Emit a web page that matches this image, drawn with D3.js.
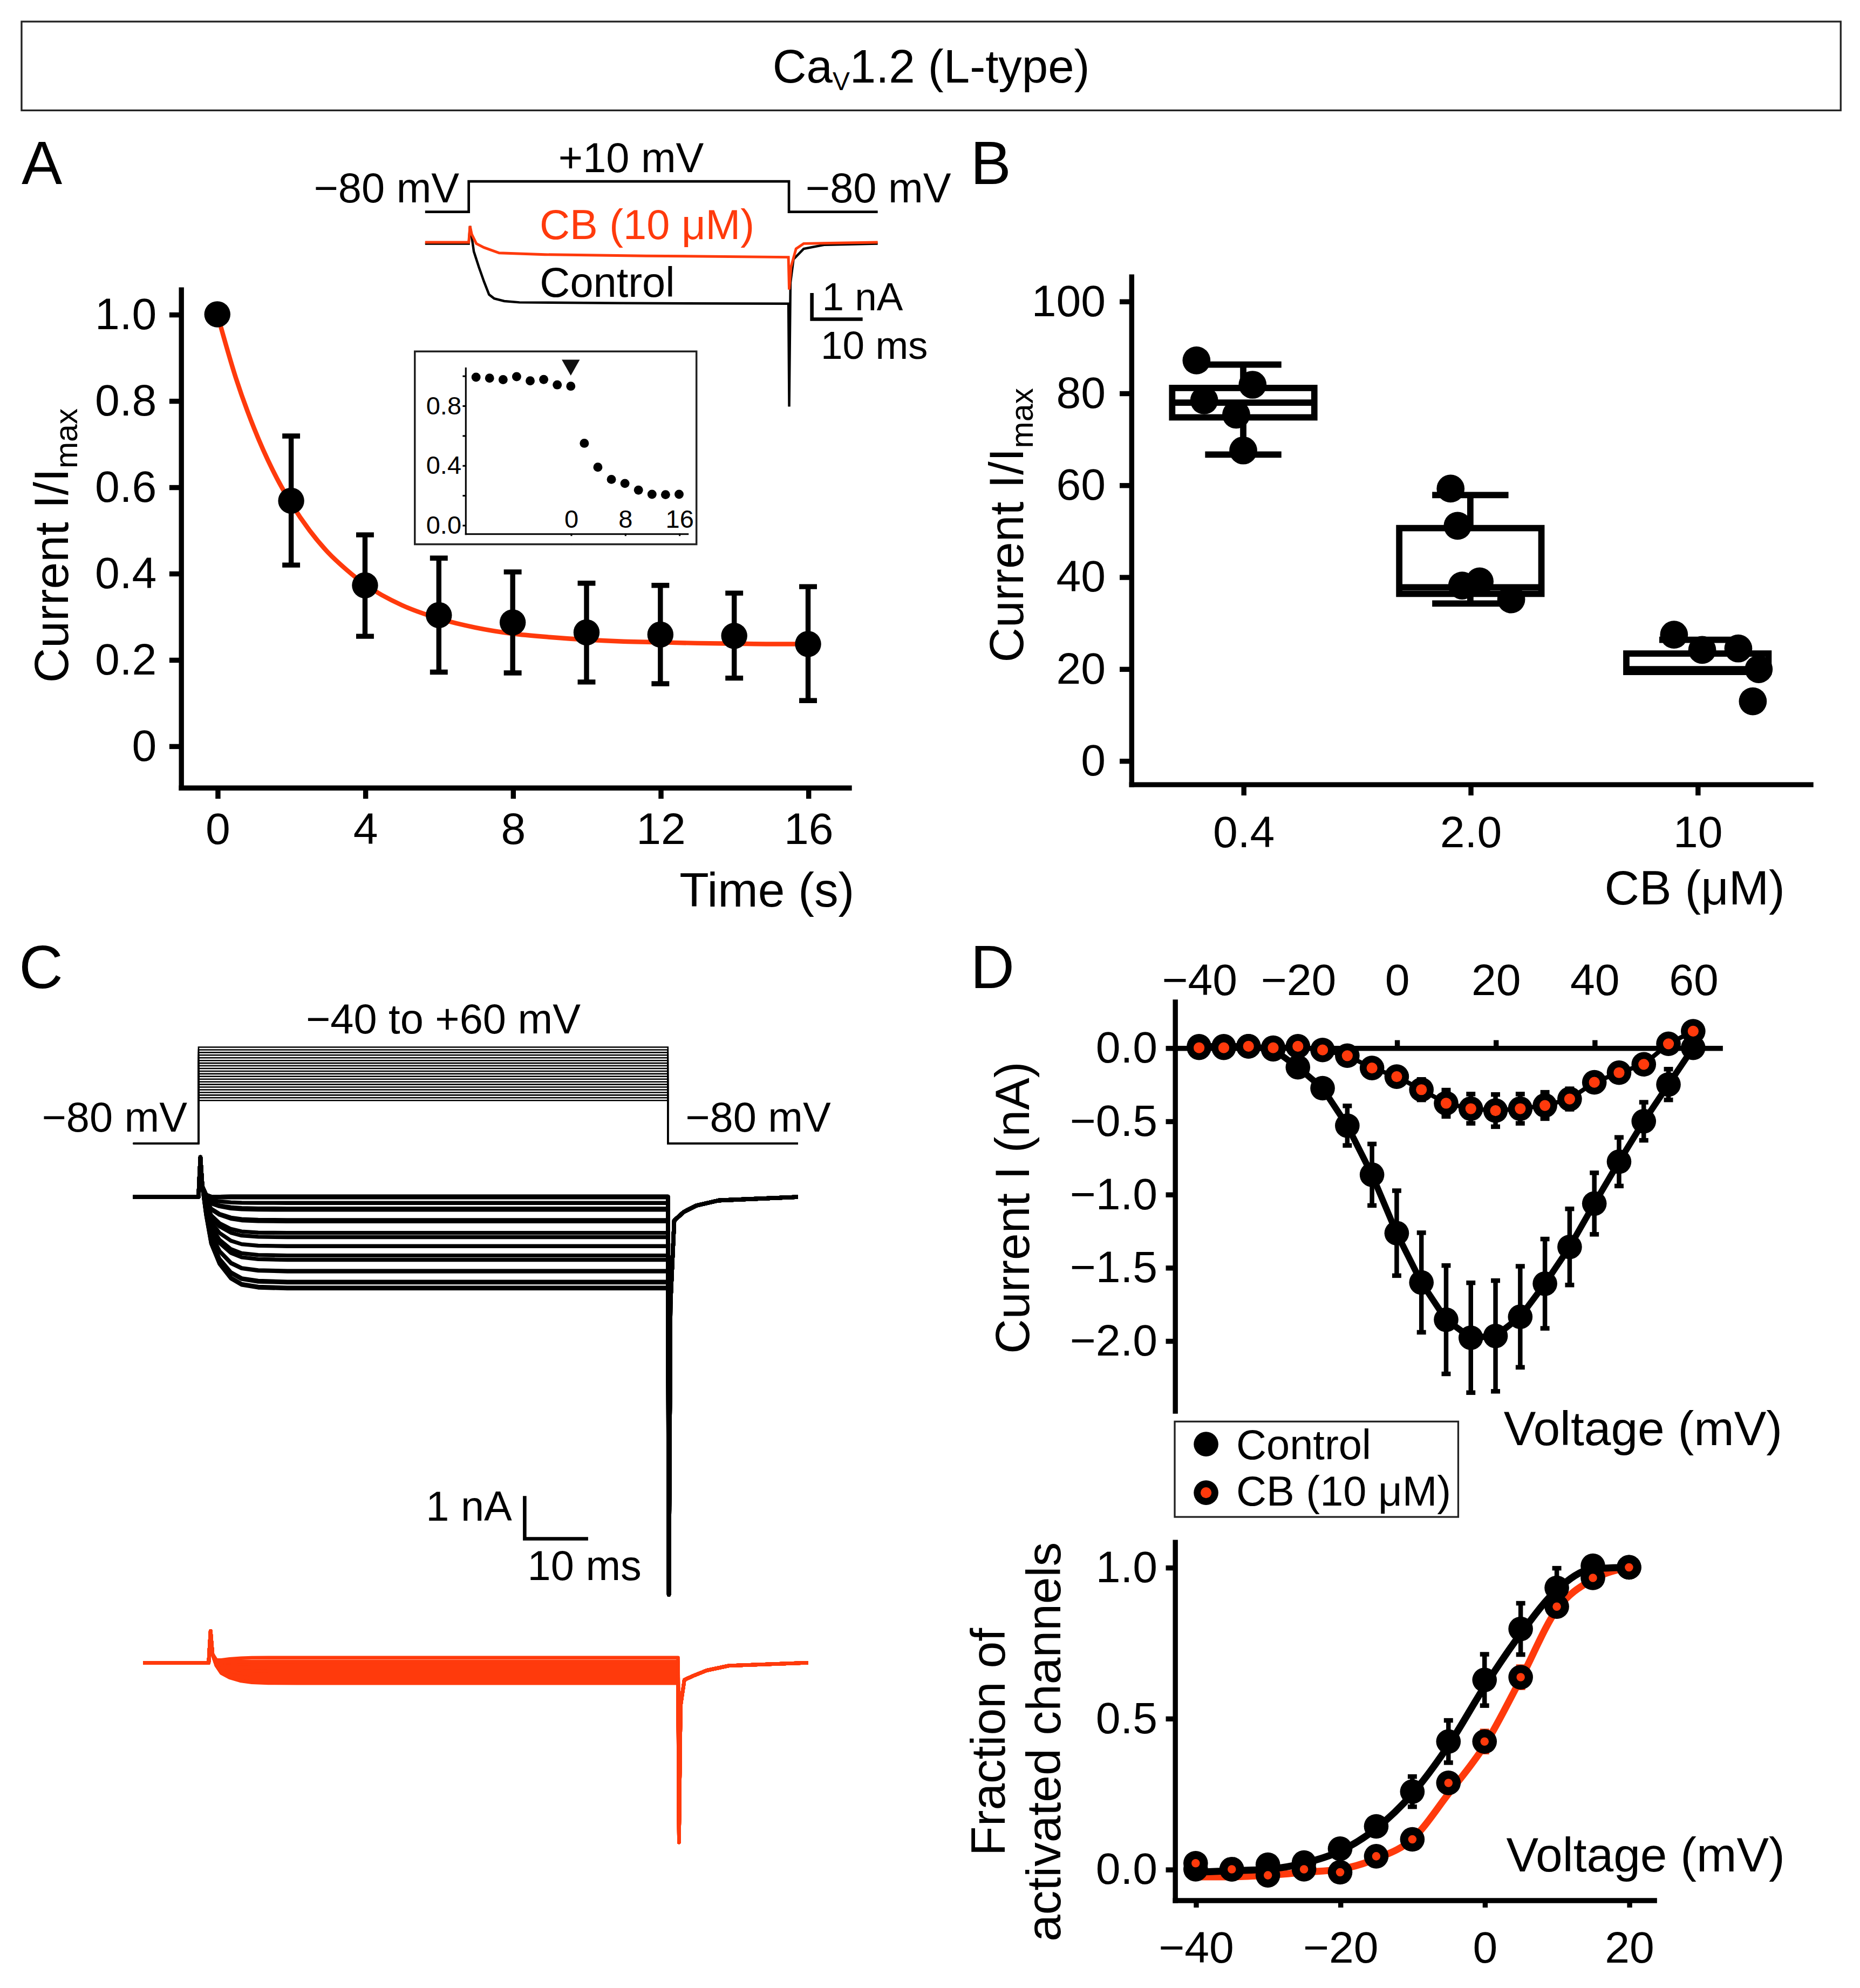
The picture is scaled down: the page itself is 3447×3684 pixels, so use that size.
<!DOCTYPE html>
<html>
<head>
<meta charset="utf-8">
<script src="https://cdn.jsdelivr.net/npm/d3@7"></script>
<style>
  html, body { margin: 0; padding: 0; background: #fff; }
  svg { display: block; }
  text { font-family: "Liberation Sans", Arial, Helvetica, sans-serif; }
</style>
</head>
<body>
<svg id="fig"></svg>
<script>
/* CaV1.2 (L-type) figure — panels A-D */

const FONT = '"Liberation Sans", Arial, Helvetica, sans-serif';
const RED = '#ff3a0c';

// ---------- Panel A : time course of block ----------
const timeA = [0, 2, 4, 6, 8, 10, 12, 14, 16];
const meanA = [1.0, 0.568, 0.372, 0.303, 0.286, 0.263, 0.258, 0.255, 0.236];
const upperA = [1.0, 0.718, 0.489, 0.435, 0.403, 0.377, 0.372, 0.354, 0.369];
const lowerA = [1.0, 0.419, 0.254, 0.171, 0.169, 0.148, 0.144, 0.157, 0.105];
const fitTimeA = [0, 0.5, 1, 1.5, 2, 2.5, 3, 3.5, 4, 5, 6, 7, 8, 9, 10, 11, 12, 13, 14, 15, 16];
const fitValA = [1.0, 0.853, 0.735, 0.639, 0.562, 0.499, 0.448, 0.408, 0.374, 0.326, 0.295,
                 0.274, 0.260, 0.252, 0.246, 0.242, 0.240, 0.238, 0.237, 0.236, 0.236];
const ticksTimeA = [0, 4, 8, 12, 16];
const ticksRelA = [0, 0.2, 0.4, 0.6, 0.8, 1.0];

// inset: single cell
const insetTime = [-14, -12, -10, -8, -6, -4, -2, 0, 2, 4, 6, 8, 10, 12, 14, 16];
const insetVal = [0.989, 0.983, 0.973, 0.993, 0.965, 0.974, 0.938, 0.929,
                  0.547, 0.387, 0.305, 0.278, 0.233, 0.205, 0.203, 0.205];
const insetTicksY = [0, 0.2, 0.4, 0.6, 0.8, 1.0];
const insetLabelsY = [0, 0.4, 0.8];
const insetTicksX = [0, 8, 16];
const insetDrugAt = 0;

// example sweeps (ms, nA)
const sweepTimeCtrlA = [-8.6, 0, 0.25, 0.6, 1, 2, 3, 4, 5, 7, 10, 30, 63, 63.15, 63.4, 64, 66, 70, 80.6];
const sweepCtrlA = [0, 0, 0.67, 0.25, -0.3, -0.9, -1.45, -1.95, -2.1, -2.2, -2.25, -2.28, -2.3, -6.24, -1.5, -0.6, -0.2, -0.05, 0];
const sweepTimeCbA = [-8.6, 0, 0.25, 0.6, 1.5, 3, 6, 15, 35, 63, 63.15, 63.5, 64.5, 66, 80.6];
const sweepCbA = [0.05, 0.05, 0.67, 0.35, 0.0, -0.15, -0.36, -0.42, -0.47, -0.52, -1.76, -0.9, -0.2, 0.0, 0.05];
const protoTimeA = [-8.6, 0, 63.1, 80.6];
const protoVoltA = [-80, 10, -80, -80];

// ---------- Panel B : concentration dependence ----------
const doses = ['0.4', '2.0', '10'];
const boxMin = [66.6, 34.2, 19.3];
const boxQ1 = [74.7, 36.3, 19.3];
const boxMed = [77.9, 37.7, 19.9];
const boxQ3 = [81.1, 50.6, 23.3];
const boxMax = [86.2, 57.8, 26.3];
const cellsB = [[87.1, 78.4, 81.8, 75.3, 67.5], [59.2, 51.1, 38.1, 39.0, 35.1], [27.4, 24.1, 24.4, 19.9, 12.9]];
const jitterB = [[-0.206, -0.172, 0.041, -0.031, 0], [-0.087, -0.056, -0.036, 0.041, 0.18], [-0.103, 0.021, 0.18, 0.27, 0.244]];
const ticksPctB = [0, 20, 40, 60, 80, 100];

// ---------- Panel D : I-V and activation ----------
const voltIV = [-40, -35, -30, -25, -20, -15, -10, -5, 0, 5, 10, 15, 20, 25, 30, 35, 40, 45, 50, 55, 60];
const ivCtrl = [0.01, 0.01, 0.01, -0.01, -0.133, -0.276, -0.532, -0.867, -1.266, -1.603, -1.857, -1.98,
                -1.968, -1.837, -1.611, -1.36, -1.064, -0.778, -0.502, -0.251, 0.0];
const ivCtrlErr = [0.02, 0.02, 0.02, 0.02, 0.03, 0.06, 0.135, 0.21, 0.29, 0.34, 0.37, 0.375,
                   0.378, 0.345, 0.305, 0.26, 0.21, 0.166, 0.13, 0.105, 0.05];
const ivCb = [0.0, 0.0, 0.01, 0.0, 0.01, -0.015, -0.054, -0.138, -0.197, -0.286, -0.379, -0.416,
              -0.429, -0.416, -0.394, -0.35, -0.236, -0.17, -0.113, 0.027, 0.113];
const ivCbErr = [0.02, 0.02, 0.02, 0.02, 0.02, 0.03, 0.04, 0.05, 0.06, 0.07, 0.09, 0.1,
                 0.11, 0.1, 0.09, 0.07, 0.05, 0.04, 0.04, 0.03, 0.03];
const ticksVoltIV = [-40, -20, 0, 20, 40, 60];
const ticksCurIV = [0, -0.5, -1.0, -1.5, -2.0];

const voltAct = [-40, -35, -30, -25, -20, -15, -10, -5, 0, 5, 10, 15, 20];
const actCtrl = [0.0, 0.0, 0.015, 0.022, 0.068, 0.142, 0.257, 0.423, 0.627, 0.796, 0.932, 1.005, 1.0];
const actCtrlErr = [0.01, 0.01, 0.01, 0.01, 0.02, 0.03, 0.05, 0.07, 0.085, 0.085, 0.065, 0.02, 0];
const actCb = [0.02, 0.0, -0.02, 0.0, -0.01, 0.043, 0.099, 0.286, 0.423, 0.636, 0.870, 0.965, 1.0];
const actCbErr = [0.02, 0.01, 0.03, 0.02, 0.02, 0.03, 0.03, 0.03, 0.035, 0.035, 0.03, 0.02, 0];
const fitCtrlAct = [-0.01, -0.005, 0.0, 0.02, 0.06, 0.135, 0.25, 0.41, 0.605, 0.78, 0.925, 0.995, 1.0];
const fitCbAct = [-0.025, -0.025, -0.02, -0.01, 0.0, 0.035, 0.10, 0.25, 0.41, 0.63, 0.86, 0.96, 1.0];
const ticksVoltAct = [-40, -20, 0, 20];
const ticksFracAct = [0, 0.5, 1.0];

// ---------- Panel C : family of sweeps ----------
const steadyCtrlC = [0.01, 0.01, 0.01, -0.01, -0.14, -0.30, -0.57, -0.94, -1.37, -1.73, -2.0, -2.14,
                     -2.12, -1.98, -1.74, -1.47, -1.15, -0.84, -0.54, -0.27, 0.01];
const steadyCbC = [0, 0, 0.01, 0, 0.01, -0.02, -0.06, -0.15, -0.22, -0.31, -0.42, -0.46,
                   -0.48, -0.46, -0.43, -0.38, -0.26, -0.19, -0.12, 0.03, 0.12];
const sweepTimeC = [-10.3, 0, 0.15, 0.3, 0.6, 1.2, 2.0, 3.3, 5.1, 6.8, 9.4, 14, 74];
const onsetFracC = [0, 0, 0, 0, 0, 0.22, 0.51, 0.73, 0.89, 0.96, 0.99, 1, 1];
const capCtrlC = [0, 0, 0.5, 0.93, 0.25, 0.05, 0, 0, 0, 0, 0, 0, 0];
const capCbC = [0, 0, 0.4, 0.74, 0.2, 0.04, 0, 0, 0, 0, 0, 0, 0];
const tailTimeC = [74.15, 74.4, 75, 76.5, 78.5, 82, 94.5];
const tailCtrlC = [-9.3, -2.5, -0.55, -0.35, -0.2, -0.08, 0];
const tailCbC = [-4.2, -1.0, -0.4, -0.3, -0.18, -0.07, 0];
const protoTimeC = [-10.3, 0, 74, 94.5];

// ======================================================================

const svg = d3.select('#fig')
  .attr('width', 3447).attr('height', 3684)
  .attr('viewBox', '0 0 1466.2 1567');
svg.append('rect').attr('width', 1466.2).attr('height', 1567).attr('fill', '#fff');

function label(x, y, str, size, anchor, color) {
  return svg.append('text')
    .attr('x', x).attr('y', y)
    .attr('font-size', size)
    .attr('text-anchor', anchor || 'start')
    .attr('fill', color || '#000')
    .text(str);
}

function styleAxis(g, sw, fs) {
  g.attr('font-family', FONT).attr('font-size', fs);
  g.select('.domain').attr('stroke-width', sw).attr('stroke-linecap', 'square');
  g.selectAll('.tick line').attr('stroke-width', sw);
  g.selectAll('.tick text').attr('fill', '#000');
}

function yTitle(x, y, main, sub) {
  const t = svg.append('text')
    .attr('transform', `translate(${x},${y}) rotate(-90)`)
    .attr('text-anchor', 'middle')
    .attr('font-size', 38);
  t.append('tspan').text(main);
  if (sub) t.append('tspan').attr('font-size', '0.66em').attr('dy', '0.3em').text(sub);
  return t;
}

// ---------- title ----------
svg.append('rect').attr('x', 17).attr('y', 17).attr('width', 1434).attr('height', 70)
  .attr('fill', 'none').attr('stroke', '#222').attr('stroke-width', 1.4);
const title = svg.append('text').attr('x', 734).attr('y', 65)
  .attr('text-anchor', 'middle').attr('font-size', 37);
title.append('tspan').text('Ca');
title.append('tspan').attr('font-size', '0.55em').attr('dy', '0.3em').text('V');
title.append('tspan').attr('dy', '-0.165em').text('1.2 (L-type)');

// panel letters
label(17, 145, 'A', 48);
label(765, 145, 'B', 48);
label(15, 779, 'C', 48);
label(765, 779, 'D', 48);

// ======================= Panel A =======================
const xA = d3.scaleLinear().domain([-0.99, 17.1]).range([142.5, 669]);
const yA = d3.scaleLinear().domain([-0.096, 1.058]).range([620.6, 228]);

svg.append('path')
  .datum(fitTimeA.map((t, i) => [t, fitValA[i]]))
  .attr('fill', 'none').attr('stroke', RED).attr('stroke-width', 3.6)
  .attr('d', d3.line().x(d => xA(d[0])).y(d => yA(d[1])).curve(d3.curveMonotoneX));

const errA = svg.append('g').attr('stroke', '#000').attr('stroke-width', 4);
timeA.forEach((t, i) => {
  if (upperA[i] === lowerA[i]) return;
  errA.append('line').attr('x1', xA(t)).attr('x2', xA(t)).attr('y1', yA(upperA[i])).attr('y2', yA(lowerA[i]));
  [upperA[i], lowerA[i]].forEach(v => {
    errA.append('line').attr('x1', xA(t) - 7).attr('x2', xA(t) + 7).attr('y1', yA(v)).attr('y2', yA(v));
  });
});
svg.append('g').selectAll('circle').data(timeA).join('circle')
  .attr('cx', d => xA(d)).attr('cy', (d, i) => yA(meanA[i])).attr('r', 10.3).attr('fill', '#000');

styleAxis(svg.append('g').attr('transform', `translate(0,${yA.range()[0]})`)
  .call(d3.axisBottom(xA).tickValues(ticksTimeA).tickSize(9).tickSizeOuter(0).tickPadding(11)), 4, 35);
styleAxis(svg.append('g').attr('transform', `translate(${xA.range()[0]},0)`)
  .call(d3.axisLeft(yA).tickValues(ticksRelA).tickSize(9).tickSizeOuter(0).tickPadding(10)
    .tickFormat(d => d === 0 ? '0' : d3.format('.1f')(d))), 4, 35);
yTitle(53.5, 430, 'Current I/I', 'max');
label(673.5, 714.4, 'Time (s)', 38, 'end');

// inset
svg.append('rect').attr('x', 327).attr('y', 277).attr('width', 222).attr('height', 152)
  .attr('fill', '#fff').attr('stroke', '#222').attr('stroke-width', 1.5);
const xI = d3.scaleLinear().domain([-15.6, 17.2]).range([366.7, 541.7]);
const yI = d3.scaleLinear().domain([-0.057, 1.053]).range([420.5, 289.8]);
const gIx = svg.append('g').attr('transform', `translate(0,${yI.range()[0]})`)
  .call(d3.axisBottom(xI).tickValues(insetTicksX).tickSize(2).tickSizeOuter(0));
styleAxis(gIx, 1.3, 20);
gIx.selectAll('.tick text').attr('y', -4.5).attr('dy', 0);
styleAxis(svg.append('g').attr('transform', `translate(${xI.range()[0]},0)`)
  .call(d3.axisLeft(yI).tickValues(insetTicksY).tickSize(2).tickSizeOuter(0).tickPadding(1)
    .tickFormat(d => insetLabelsY.includes(d) ? d3.format('.1f')(d) : '')), 1.3, 20);
svg.append('g').selectAll('circle').data(insetTime).join('circle')
  .attr('cx', d => xI(d)).attr('cy', (d, i) => yI(insetVal[i])).attr('r', 3.6).attr('fill', '#000');
svg.append('path').attr('fill', '#111')
  .attr('d', `M${xI(insetDrugAt - 1.33)},${yI(1.107)} L${xI(insetDrugAt + 1.33)},${yI(1.107)} L${xI(insetDrugAt)},${yI(1.0)} Z`);

// sweeps
const xTA = d3.scaleLinear().domain([0, 10]).range([369.5, 409.5]);
const yTA = d3.scaleLinear().domain([0, 1]).range([192, 171.4]);
const yVA = d3.scaleLinear().domain([-80, 10]).range([167, 143]);
svg.append('path')
  .datum(protoTimeA.map((t, i) => [t, protoVoltA[i]]))
  .attr('fill', 'none').attr('stroke', '#000').attr('stroke-width', 2)
  .attr('d', d3.line().x(d => xTA(d[0])).y(d => yVA(d[1])).curve(d3.curveStepAfter));
const lineTA = d3.line().x(d => xTA(d[0])).y(d => yTA(d[1]));
svg.append('path').datum(sweepTimeCtrlA.map((t, i) => [t, sweepCtrlA[i]]))
  .attr('fill', 'none').attr('stroke', '#000').attr('stroke-width', 1.9).attr('d', lineTA);
svg.append('path').datum(sweepTimeCbA.map((t, i) => [t, sweepCbA[i]]))
  .attr('fill', 'none').attr('stroke', RED).attr('stroke-width', 2.1).attr('d', lineTA);

label(362, 159.4, '\u221280 mV', 33, 'end');
label(497.5, 135.6, '+10 mV', 33, 'middle');
label(635, 159.4, '\u221280 mV', 33, 'start');
label(510, 188.3, 'CB (10 \u03bcM)', 33, 'middle', RED);
label(478.7, 233.8, 'Control', 33, 'middle');

// scale bar A
const barA = svg.append('g').attr('stroke', '#000').attr('stroke-width', 2.8).attr('fill', 'none');
barA.append('path').attr('d',
  `M640,${251.6 - (yTA(0) - yTA(1))} V251.6 H${640 + xTA(10) - xTA(0)}`);
label(648, 244.7, '1 nA', 31);
label(647, 283, '10 ms', 31);

// ======================= Panel B =======================
const xB = d3.scaleLinear().domain([-0.494, 2.497]).range([891.6, 1427]);
const yB = d3.scaleLinear().domain([-5.1, 105.4]).range([618, 217.8]);

const gBox = svg.append('g').attr('stroke', '#000').attr('stroke-width', 5).attr('fill', 'none');
doses.forEach((d, i) => {
  const cx = xB(i);
  const halfBox = (xB(1) - xB(0)) * 0.313;
  const halfCap = (xB(1) - xB(0)) * 0.168;
  gBox.append('line').attr('x1', cx).attr('x2', cx).attr('y1', yB(boxQ3[i])).attr('y2', yB(boxMax[i]));
  gBox.append('line').attr('x1', cx).attr('x2', cx).attr('y1', yB(boxQ1[i])).attr('y2', yB(boxMin[i]));
  gBox.append('line').attr('x1', cx - halfCap).attr('x2', cx + halfCap).attr('y1', yB(boxMax[i])).attr('y2', yB(boxMax[i]));
  gBox.append('line').attr('x1', cx - halfCap).attr('x2', cx + halfCap).attr('y1', yB(boxMin[i])).attr('y2', yB(boxMin[i]));
  gBox.append('rect').attr('x', cx - halfBox).attr('width', 2 * halfBox)
    .attr('y', yB(boxQ3[i])).attr('height', yB(boxQ1[i]) - yB(boxQ3[i]))
    .attr('fill', '#fff');
  gBox.append('line').attr('x1', cx - halfBox).attr('x2', cx + halfBox).attr('y1', yB(boxMed[i])).attr('y2', yB(boxMed[i]));
});
doses.forEach((d, i) => {
  svg.append('g').selectAll('circle').data(cellsB[i]).join('circle')
    .attr('cx', (v, k) => xB(i + jitterB[i][k])).attr('cy', v => yB(v)).attr('r', 11).attr('fill', '#000');
});
styleAxis(svg.append('g').attr('transform', `translate(0,${yB.range()[0]})`)
  .call(d3.axisBottom(xB).tickValues([0, 1, 2]).tickFormat(i => doses[i]).tickSize(9).tickSizeOuter(0).tickPadding(16)), 4, 35);
styleAxis(svg.append('g').attr('transform', `translate(${xB.range()[0]},0)`)
  .call(d3.axisLeft(yB).tickValues(ticksPctB).tickSize(9).tickSizeOuter(0).tickPadding(11)), 4, 35);
yTitle(806.5, 414, 'Current I/I', 'max');
label(1407, 713, 'CB (\u03bcM)', 38, 'end');

// ======================= Panel C =======================
const xTC = d3.scaleLinear().domain([0, 10]).range([156.5, 206.5]);
const xTCcb = d3.scaleLinear().domain([0, 10]).range([164.5, 214.5]);
const yTC = d3.scaleLinear().domain([0, 1]).range([943.5, 909.8]);
const yTCcb = d3.scaleLinear().domain([0, 1]).range([1310.6, 1276.9]);
const yVC = d3.scaleLinear().domain([-80, -40, 60]).range([901.3, 867.4, 825.4]);

const gProto = svg.append('g').attr('fill', 'none').attr('stroke', '#000').attr('stroke-width', 1.1);
voltIV.forEach(v => {
  gProto.append('path')
    .datum(protoTimeC.map((t, i) => [t, i === 1 ? v : -80]))
    .attr('d', d3.line().x(d => xTC(d[0])).y(d => yVC(d[1])).curve(d3.curveStepAfter));
});
label(349.4, 814.6, '\u221240 to +60 mV', 33, 'middle');
label(147.6, 891.8, '\u221280 mV', 33, 'end');
label(540.3, 891.8, '\u221280 mV', 33, 'start');

function sweepPoints(steady, cap, tail) {
  const pts = sweepTimeC.map((t, k) => [t, onsetFracC[k] * steady + cap[k]]);
  tailTimeC.forEach((t, k) => pts.push([t, tail[k]]));
  return pts;
}
const gCtrlC = svg.append('g').attr('fill', 'none').attr('stroke', '#000').attr('stroke-width', 3.1)
  .attr('stroke-linejoin', 'round');
steadyCtrlC.forEach(s => {
  gCtrlC.append('path').datum(sweepPoints(s, capCtrlC, tailCtrlC))
    .attr('d', d3.line().x(d => xTC(d[0])).y(d => yTC(d[1])));
});
const gCbC = svg.append('g').attr('fill', 'none').attr('stroke', RED).attr('stroke-width', 2.8)
  .attr('stroke-linejoin', 'round');
steadyCbC.forEach(s => {
  gCbC.append('path').datum(sweepPoints(s, capCbC, tailCbC))
    .attr('d', d3.line().x(d => xTCcb(d[0])).y(d => yTCcb(d[1])));
});

// scale bar C
svg.append('path').attr('fill', 'none').attr('stroke', '#000').attr('stroke-width', 2.8)
  .attr('d', `M413.6,${1212.9 - (yTC(0) - yTC(1))} V1212.9 H${413.6 + xTC(10) - xTC(0)}`);
label(403.6, 1198.6, '1 nA', 33, 'end');
label(415.8, 1245.4, '10 ms', 33, 'start');

// ======================= Panel D : I-V =======================
const xIV = d3.scaleLinear().domain([-44.93, 65.37]).range([926, 1355.6]);
const yIV = d3.scaleLinear().domain([-2.477, 0.316]).range([1111.8, 789.4]);

styleAxis(svg.append('g').attr('transform', `translate(0,${yIV(0)})`)
  .call(d3.axisTop(xIV).tickValues(ticksVoltIV).tickSize(6).tickSizeOuter(0).tickPadding(35.6)
    .tickFormat(d3.format('d'))), 4, 35);
styleAxis(svg.append('g').attr('transform', `translate(${xIV.range()[0]},0)`)
  .call(d3.axisLeft(yIV).tickValues(ticksCurIV).tickSize(7).tickSizeOuter(0).tickPadding(6.6)
    .tickFormat(d3.format('.1f'))), 4, 35);

function errBars(g, xs, ys, es, xS, yS, color, capHalf) {
  const eg = g.append('g').attr('stroke', color).attr('stroke-width', 3.6);
  xs.forEach((v, i) => {
    if (!es[i]) return;
    const x = xS(v), y1 = yS(ys[i] + es[i]), y2 = yS(ys[i] - es[i]);
    eg.append('line').attr('x1', x).attr('x2', x).attr('y1', y1).attr('y2', y2);
    eg.append('line').attr('x1', x - capHalf).attr('x2', x + capHalf).attr('y1', y1).attr('y2', y1);
    eg.append('line').attr('x1', x - capHalf).attr('x2', x + capHalf).attr('y1', y2).attr('y2', y2);
  });
}
function markers(xs, ys, xS, yS, inner) {
  const g = svg.append('g');
  g.selectAll('circle').data(xs).join('circle')
    .attr('cx', d => xS(d)).attr('cy', (d, i) => yS(ys[i])).attr('r', 9.7).attr('fill', '#000');
  if (inner) {
    g.append('g').selectAll('circle').data(xs).join('circle')
      .attr('cx', d => xS(d)).attr('cy', (d, i) => yS(ys[i])).attr('r', inner).attr('fill', RED);
  }
}

const lineIV = d3.line().x(d => xIV(d[0])).y(d => yIV(d[1]));
svg.append('path').datum(voltIV.map((v, i) => [v, ivCtrl[i]]))
  .attr('fill', 'none').attr('stroke', '#000').attr('stroke-width', 5).attr('d', lineIV);
errBars(svg, voltIV, ivCtrl, ivCtrlErr, xIV, yIV, '#000', 3.6);
markers(voltIV, ivCtrl, xIV, yIV, 0);
svg.append('path').datum(voltIV.map((v, i) => [v, ivCb[i]]))
  .attr('fill', 'none').attr('stroke', '#000').attr('stroke-width', 3.5).attr('d', lineIV);
errBars(svg, voltIV, ivCb, ivCbErr, xIV, yIV, '#000', 3.6);
markers(voltIV, ivCb, xIV, yIV, 4.3);

yTitle(811, 952, 'Current I (nA)');
label(1405, 1138.9, 'Voltage (mV)', 38, 'end');

// legend
svg.append('rect').attr('x', 926).attr('y', 1120.5).attr('width', 223.5).attr('height', 75.2)
  .attr('fill', '#fff').attr('stroke', '#222').attr('stroke-width', 1.4);
svg.append('circle').attr('cx', 950.7).attr('cy', 1138.3).attr('r', 9.7).attr('fill', '#000');
svg.append('circle').attr('cx', 950.7).attr('cy', 1176.6).attr('r', 9.7).attr('fill', '#000');
svg.append('circle').attr('cx', 950.7).attr('cy', 1176.6).attr('r', 4.3).attr('fill', RED);
label(974.5, 1150, 'Control', 33);
label(974.5, 1186.7, 'CB (10 \u03bcM)', 33);

// ======================= Panel D : activation =======================
const xAct = d3.scaleLinear().domain([-42.9, 23.44]).range([926, 1303.7]);
const yAct = d3.scaleLinear().domain([-0.1017, 1.0845]).range([1497.6, 1215.3]);

styleAxis(svg.append('g').attr('transform', `translate(0,${yAct.range()[0]})`)
  .call(d3.axisBottom(xAct).tickValues(ticksVoltAct).tickSize(6).tickSizeOuter(0).tickPadding(18.5)
    .tickFormat(d3.format('d'))), 4, 35);
styleAxis(svg.append('g').attr('transform', `translate(${xAct.range()[0]},0)`)
  .call(d3.axisLeft(yAct).tickValues(ticksFracAct).tickSize(7).tickSizeOuter(0).tickPadding(6.6)
    .tickFormat(d3.format('.1f'))), 4, 35);

const lineAct = d3.line().x(d => xAct(d[0])).y(d => yAct(d[1])).curve(d3.curveMonotoneX);
svg.append('path').datum(voltAct.map((v, i) => [v, fitCbAct[i]]))
  .attr('fill', 'none').attr('stroke', RED).attr('stroke-width', 5.5).attr('d', lineAct);
svg.append('path').datum(voltAct.map((v, i) => [v, fitCtrlAct[i]]))
  .attr('fill', 'none').attr('stroke', '#000').attr('stroke-width', 5.5).attr('d', lineAct);
errBars(svg, voltAct, actCtrl, actCtrlErr, xAct, yAct, '#000', 3.6);
markers(voltAct, actCtrl, xAct, yAct, 0);
errBars(svg, voltAct, actCb, actCbErr, xAct, yAct, RED, 3.6);
markers(voltAct, actCb, xAct, yAct, 3.3);

svg.append('text').attr('transform', 'translate(792,1373) rotate(-90)')
  .attr('text-anchor', 'middle').attr('font-size', 38).text('Fraction of');
svg.append('text').attr('transform', 'translate(836,1373) rotate(-90)')
  .attr('text-anchor', 'middle').attr('font-size', 38).text('activated channels');
label(1407, 1475, 'Voltage (mV)', 38, 'end');
</script>
</body>
</html>
